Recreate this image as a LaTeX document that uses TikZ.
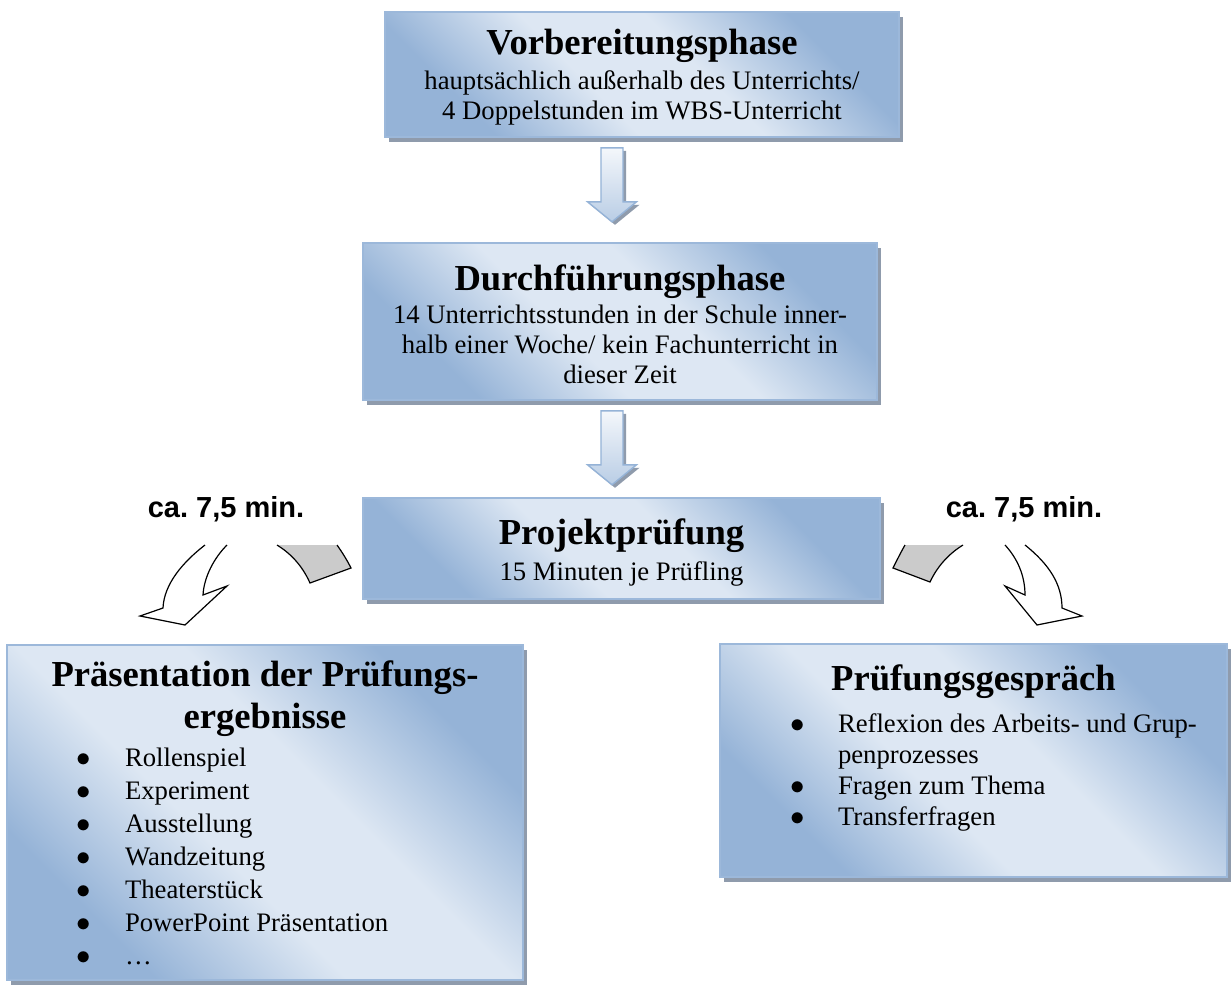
\documentclass[tikz,border=0pt]{standalone}
\usepackage{fontspec}
\setmainfont{Liberation Serif}
\newfontfamily\labelfont{Liberation Sans}
\usepackage{xcolor}
\usetikzlibrary{positioning,calc,shadows}

\definecolor{boxdark}{HTML}{95B3D7}
\definecolor{boxlight}{HTML}{DDE7F3}
\definecolor{boxline}{HTML}{9CB8DA}
\definecolor{boxshadow}{HTML}{8F9BAC}
\definecolor{arrtop}{HTML}{F4F7FB}
\definecolor{arrbottom}{HTML}{B9CDE5}
\definecolor{tailgray}{HTML}{CBCBCB}

\pgfdeclareverticalshading{phaseshade}{100bp}{color(0bp)=(boxdark); color(27bp)=(boxdark);
  color(43bp)=(boxlight); color(57bp)=(boxlight); color(73bp)=(boxdark); color(100bp)=(boxdark)}

\newcommand{\titlefont}{\fontsize{18.3}{21}\bfseries\selectfont}
\newcommand{\bodyfont}{\fontsize{13.35}{15}\selectfont}
\newcommand{\listitem}[1]{\par\noindent\hspace*{35pt}\makebox[24pt][l]{$\bullet$}#1}

\tikzset{
  phasebox/.style={draw=boxline, line width=0.8pt,
    shading=phaseshade, shading angle=-45,
    drop shadow={shadow xshift=2pt, shadow yshift=-2.5pt, fill=boxshadow, opacity=1},
    inner sep=0pt},
  boxtext/.style={inner sep=0pt, align=center, anchor=north, font=\bodyfont},
  listtext/.style={inner sep=0pt, align=flush left, anchor=north},
  blockarrow/.style={draw=boxdark, line width=0.7pt, top color=arrtop, bottom color=arrbottom},
  timelabel/.style={font=\labelfont\bfseries\fontsize{14.5}{17}\selectfont, inner sep=0pt},
  curvearrow/.style={draw=black, line width=0.6pt, line join=miter},
}

\begin{document}
\frenchspacing
\begin{tikzpicture}[x=0.5pt, y=-0.5pt]
\fill[white] (0,0) rectangle (1232,985);
\useasboundingbox (0,0) rectangle (1232,985);

% phases
\node[phasebox, minimum width=257pt, minimum height=62.5pt] (vorb) at (642,74.5) {};
\node[boxtext] (vorbtext) at ($(vorb.north)+(0,18)$)
  {{\titlefont Vorbereitungsphase}\\[2.5pt]
   hauptsächlich außerhalb des Unterrichts/\\
   4 Doppelstunden im WBS-Unterricht};

\node[phasebox, minimum width=257pt, minimum height=78.5pt] (durch) at (620,321.5) {};
\node[boxtext] (durchtext) at ($(durch.north)+(0,22)$)
  {{\titlefont Durchführungsphase}\\[1.5pt]
   14 Unterrichtsstunden in der Schule inner-\\
   halb einer Woche/ kein Fachunterricht in\\
   dieser Zeit};

\node[phasebox, minimum width=258.5pt, minimum height=50.5pt] (pruef) at (621.5,548.5) {};
\node[boxtext] (prueftext) at ($(pruef.north)+(0,21)$)
  {{\titlefont Projektprüfung}\\[3pt]
   15 Minuten je Prüfling};

% the two parts of the exam
\node[phasebox, minimum width=258pt, minimum height=167.5pt] (praes) at (265,812.5) {};
\node[listtext, text width=258pt, font=\fontsize{13.35}{16.5}\selectfont] (praestext)
  at ($(praes.north)+(0,16)$)
  {{\titlefont\centering Präsentation der Prüfungs-\\ergebnisse\par}
   \vspace{2.5pt}
   \listitem{Rollenspiel}
   \listitem{Experiment}
   \listitem{Ausstellung}
   \listitem{Wandzeitung}
   \listitem{Theaterstück}
   \listitem{PowerPoint Präsentation}
   \listitem{\dots}\par};

\node[phasebox, minimum width=253.5pt, minimum height=116.5pt] (gespr) at (973.5,760.5) {};
\node[listtext, text width=253.5pt, font=\fontsize{13.35}{15.5}\selectfont] (gesprtext)
  at ($(gespr.north)+(0,21)$)
  {{\titlefont\centering Prüfungsgespräch\par}
   \vspace{5.5pt}
   \listitem{Reflexion des Arbeits- und Grup-}
   \par\noindent\hspace*{59pt}penprozesses
   \listitem{Fragen zum Thema}
   \listitem{Transferfragen}\par};

% block arrows between the phases
\coordinate (axis) at (612,0);
\foreach \from in {vorb,durch} {
  \path (\from.south -| axis) ++(0,10) coordinate (top);
  \fill[boxshadow] ($(top)+(3,3)$) ++(-11,0) -- ++(22,0) -- ++(0,54) -- ++(13.5,0)
    -- ++(-24.5,20) -- ++(-24.5,-20) -- ++(13.5,0) -- cycle;
  \draw[blockarrow] (top) ++(-11,0) -- ++(22,0) -- ++(0,54) -- ++(13.5,0)
    -- ++(-24.5,20) -- ++(-24.5,-20) -- ++(13.5,0) -- cycle;
}

% time labels
\node[timelabel] (lblleft) at (226,509) {ca. 7,5 min.};
\node[timelabel] (lblright) at (1024,509) {ca. 7,5 min.};

% curved arrows, left
\filldraw[curvearrow, fill=tailgray] (337,545) .. controls (342,552) and (347,560) .. (351,568)
  -- (310,583) .. controls (302,565) and (290,553) .. (277,545);
\draw[curvearrow] (227,545) .. controls (214,558) and (204,577) .. (203,595)
  -- (227,586) -- (185,625) -- (140,616) -- (163,608)
  .. controls (164,584) and (183,562) .. (205,545);

% curved arrows, right
\filldraw[curvearrow, fill=tailgray] (905,545) .. controls (901,552) and (897,560) .. (893,568)
  -- (930,582) .. controls (938,565) and (950,553) .. (963,545);
\draw[curvearrow] (1005,545) .. controls (1017,558) and (1025,575) .. (1025,595)
  -- (1005,586) -- (1037,625) -- (1082,616) -- (1062,608)
  .. controls (1062,585) and (1050,565) .. (1025,545);
\end{tikzpicture}
\end{document}
